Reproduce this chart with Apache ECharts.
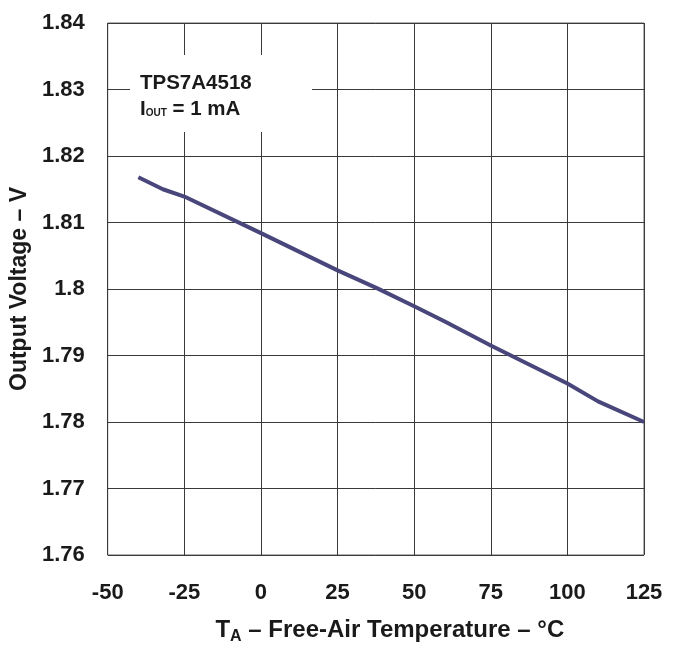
<!DOCTYPE html>
<html>
<head>
<meta charset="utf-8">
<script src="https://cdn.jsdelivr.net/npm/echarts@6/dist/echarts.min.js"></script>
<style>html,body{margin:0;padding:0;background:#fff;}#c{width:681px;height:650px;}</style>
</head>
<body>
<div id="c"></div>
<script>
const temperatures = [-40, -32, -25, 0, 25, 38, 50, 60, 75, 100, 110, 125];
const outputVoltage = [1.8168, 1.8150, 1.8139, 1.8084, 1.8028, 1.8001, 1.7974, 1.7951, 1.7915, 1.7858, 1.7831, 1.7800];
const xTicks = [-50, -25, 0, 25, 50, 75, 100, 125];
const yTicks = [1.76, 1.77, 1.78, 1.79, 1.80, 1.81, 1.82, 1.83, 1.84];
const deviceName = 'TPS7A4518';

const font = 'Liberation Sans, Arial, Helvetica, sans-serif';
const chart = echarts.init(document.getElementById('c'));
chart.setOption({
  animation: false,
  backgroundColor: '#fff',
  grid: { left: 106, right: 37, top: 23, bottom: 85, show: true, borderColor: '#666', borderWidth: 1 },
  xAxis: {
    type: 'value', min: xTicks[0], max: xTicks[xTicks.length - 1], interval: 25,
    axisLine: { show: false }, axisTick: { show: false },
    splitLine: { show: true, lineStyle: { color: '#3a3a3a', width: 1 } },
    axisLabel: { color: '#1a1a1a', fontFamily: font, fontWeight: 'bold', fontSize: 22, margin: 27 },
    name: '{t|T}{s|A}{t| – Free-Air Temperature – °C}',
    nameLocation: 'middle', nameGap: 61,
    nameTextStyle: {
      padding: [0, 0, 0, 28],
      rich: {
        t: { fontFamily: font, fontWeight: 'bold', fontSize: 24, color: '#1a1a1a' },
        s: { fontFamily: font, fontWeight: 'bold', fontSize: 16, color: '#1a1a1a', padding: [13, 0, 0, 0] }
      }
    }
  },
  yAxis: {
    type: 'value', min: yTicks[0], max: yTicks[yTicks.length - 1], interval: 0.01,
    axisLine: { show: false }, axisTick: { show: false },
    splitLine: { show: true, lineStyle: { color: '#3a3a3a', width: 1 } },
    axisLabel: { color: '#1a1a1a', fontFamily: font, fontWeight: 'bold', fontSize: 22, margin: 23,
      formatter: v => String(parseFloat(v.toFixed(2))) },
    name: 'Output Voltage – V', nameLocation: 'middle', nameGap: 70, nameRotate: 90,
    nameTextStyle: { fontFamily: font, fontWeight: 'bold', fontSize: 23, color: '#1a1a1a' }
  },
  series: [{
    type: 'line', data: temperatures.map((t, i) => [t, outputVoltage[i]]),
    showSymbol: false, symbol: 'none',
    lineStyle: { color: '#48467a', width: 4 }
  }],
  graphic: [{
    type: 'rect', left: 130, top: 55, z: 100,
    shape: { width: 182, height: 77 }, style: { fill: '#fff' }
  }, {
    type: 'text', left: 140, top: 73, z: 101,
    style: {
      text: '{t|' + deviceName + '}\n{t|I}{s|OUT}{t| = 1 mA}',
      rich: {
        t: { fontFamily: font, fontWeight: 'bold', fontSize: 20.5, fill: '#1a1a1a', lineHeight: 26 },
        s: { fontFamily: font, fontWeight: 'bold', fontSize: 10, fill: '#1a1a1a', padding: [8, 0, 0, 0], lineHeight: 26 }
      }
    }
  }]
});
</script>
</body>
</html>
